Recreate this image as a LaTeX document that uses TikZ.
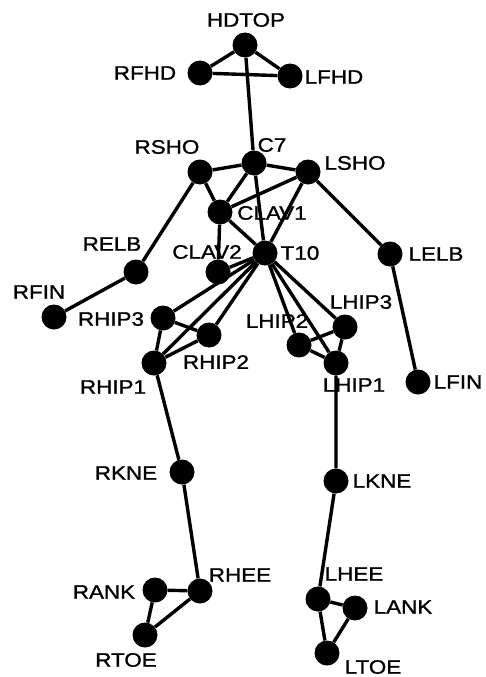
\documentclass[tikz,border=0pt]{standalone}
\usepackage{fontspec}
\newfontfamily\tagfont{Liberation Sans}[FakeStretch=1.15,FakeBold=1.2]
\begin{document}
\begin{tikzpicture}[x=1pt,y=-1pt,
  joint/.style={circle,fill=black,minimum size=25pt,inner sep=0pt},
  tag/.style={font=\tagfont\fontsize{19.5}{23}\selectfont,inner sep=0pt},
  bone/.style={line width=3.4pt}]
\useasboundingbox (0,0) rectangle (486,677);

% joints
\node[joint] (HDTOP) at (245,45) {};
\node[joint] (RFHD)  at (200,73) {};
\node[joint] (LFHD)  at (290,76) {};
\node[joint] (C7)    at (254,163) {};
\node[joint] (RSHO)  at (200,172) {};
\node[joint] (LSHO)  at (308,172) {};
\node[joint] (CLAV1) at (220,212) {};
\node[joint] (CLAV2) at (218,272) {};
\node[joint] (T10)   at (265,253) {};
\node[joint] (RELB)  at (136,272) {};
\node[joint] (RFIN)  at (54,317) {};
\node[joint] (LELB)  at (390,254) {};
\node[joint] (LFIN)  at (418,382) {};
\node[joint] (RHIP3) at (163,318) {};
\node[joint] (RHIP2) at (209,335) {};
\node[joint] (RHIP1) at (154,363) {};
\node[joint] (LHIP3) at (345,327) {};
\node[joint] (LHIP2) at (299,345) {};
\node[joint] (LHIP1) at (336,363) {};
\node[joint] (RKNE)  at (182,472) {};
\node[joint] (LKNE)  at (336,481) {};
\node[joint] (RHEE)  at (200,591) {};
\node[joint] (RANK)  at (155,590) {};
\node[joint] (RTOE)  at (145,635) {};
\node[joint] (LHEE)  at (318,599) {};
\node[joint] (LANK)  at (355,608) {};
\node[joint] (LTOE)  at (327,653) {};

% segments
\draw[bone] (HDTOP) -- (RFHD) -- (LFHD) -- (HDTOP);
\draw[bone] (HDTOP) -- (C7);
\draw[bone] (RSHO) -- (C7) -- (LSHO);
\draw[bone] (C7) -- (CLAV1);
\draw[bone] (C7) -- (T10);
\draw[bone] (RSHO) -- (CLAV1) -- (T10);
\draw[bone] (LSHO) -- (CLAV1);
\draw[bone] (LSHO) -- (T10);
\draw[bone] (CLAV1) -- (CLAV2) -- (T10);
\draw[bone] (RSHO) -- (RELB) -- (RFIN);
\draw[bone] (LSHO) -- (LELB) -- (LFIN);
\draw[bone] (T10) -- (RHIP3);
\draw[bone] (T10) -- (RHIP2);
\draw[bone] (T10) -- (RHIP1);
\draw[bone] (T10) -- (LHIP3);
\draw[bone] (T10) -- (LHIP2);
\draw[bone] (T10) -- (LHIP1);
\draw[bone] (RHIP3) -- (RHIP2) -- (RHIP1) -- (RHIP3);
\draw[bone] (LHIP3) -- (LHIP2) -- (LHIP1) -- (LHIP3);
\draw[bone] (RHIP1) -- (RKNE) -- (RHEE);
\draw[bone] (RHEE) -- (RANK) -- (RTOE) -- (RHEE);
\draw[bone] (LHIP1) -- (LKNE) -- (LHEE);
\draw[bone] (LHEE) -- (LANK) -- (LTOE) -- (LHEE);

% names
\node[tag] (tHDTOP) at (246,20)  {HDTOP};
\node[tag] (tRFHD)  at (145,73)  {RFHD};
\node[tag] (tLFHD)  at (334,77)  {LFHD};
\node[tag] (tC7)    at (272,145) {C7};
\node[tag] (tRSHO)  at (167,147) {RSHO};
\node[tag] (tLSHO)  at (355,163) {LSHO};
\node[tag] (tCLAV1) at (272,213) {CLAV1};
\node[tag] (tCLAV2) at (207,252) {CLAV2};
\node[tag] (tT10)   at (300,253) {T10};
\node[tag] (tRELB)  at (112,244) {RELB};
\node[tag] (tRFIN)  at (39,292)  {RFIN};
\node[tag] (tLELB)  at (436,254) {LELB};
\node[tag] (tLFIN)  at (458,382) {LFIN};
\node[tag] (tRHIP3) at (111,319) {RHIP3};
\node[tag] (tRHIP2) at (216,362) {RHIP2};
\node[tag] (tRHIP1) at (113,387) {RHIP1};
\node[tag] (tLHIP3) at (361,302) {LHIP3};
\node[tag] (tLHIP2) at (277,321) {LHIP2};
\node[tag] (tLHIP1) at (354,385) {LHIP1};
\node[tag] (tRKNE)  at (126,473) {RKNE};
\node[tag] (tLKNE)  at (382,481) {LKNE};
\node[tag] (tRHEE)  at (240,575) {RHEE};
\node[tag] (tRANK)  at (104,592) {RANK};
\node[tag] (tRTOE)  at (126,660) {RTOE};
\node[tag] (tLHEE)  at (354,574) {LHEE};
\node[tag] (tLANK)  at (403,607) {LANK};
\node[tag] (tLTOE)  at (373,667) {LTOE};
\end{tikzpicture}
\end{document}
